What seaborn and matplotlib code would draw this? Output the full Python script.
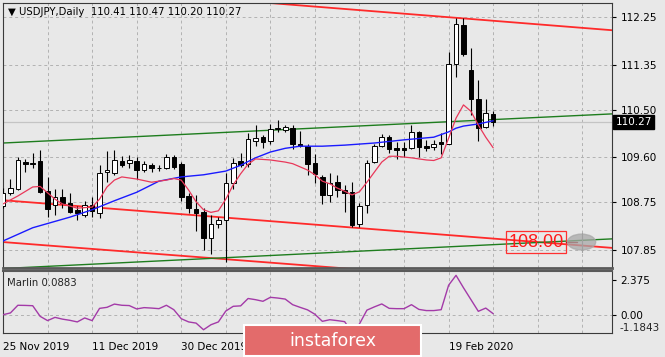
#!/usr/bin/env python3
"""USDJPY daily candles with MAs, channel lines and the Marlin oscillator."""

import matplotlib
matplotlib.use("Agg")
import matplotlib.pyplot as plt
from matplotlib.patches import Ellipse
import numpy as np
import seaborn as sns

# OHLC, bar 0 = 25 Nov 2019, bar 66 = 27 Feb 2020
opens = [108.68, 108.92, 109.01, 109.52, 109.50, 109.53, 108.97, 108.70, 108.86, 108.73,
         108.60, 108.52, 108.70, 108.54, 109.32, 109.30, 109.53, 109.49, 109.53, 109.36,
         109.45, 109.39, 109.39, 109.61, 109.47, 108.87, 108.62, 108.57, 108.08, 108.34,
         108.42, 109.11, 109.53, 109.47, 109.91, 109.98, 109.91, 110.14, 110.12, 110.16,
         109.86, 109.82, 109.49, 109.23, 108.89, 109.14, 108.99, 108.95, 108.35, 108.70,
         109.52, 109.81, 109.98, 109.77, 109.77, 109.77, 110.07, 109.81, 109.79, 109.88,
         109.86, 111.36, 112.10, 111.25, 110.71, 110.17, 110.41]
highs = [109.02, 109.20, 109.61, 109.56, 109.68, 109.73, 109.23, 109.01, 109.01, 108.92,
         108.68, 108.78, 108.86, 109.45, 109.72, 109.74, 109.63, 109.64, 109.61, 109.53,
         109.49, 109.45, 109.67, 109.64, 109.52, 108.92, 108.89, 108.64, 108.51, 108.48,
         109.30, 109.59, 109.69, 110.05, 110.21, 110.02, 110.22, 110.30, 110.21, 110.21,
         110.10, 109.85, 109.66, 109.27, 109.30, 109.27, 109.08, 109.14, 108.73, 109.55,
         109.86, 110.04, 110.02, 109.88, 109.89, 110.21, 110.10, 109.93, 109.93, 110.05,
         111.59, 112.23, 112.23, 111.66, 111.06, 110.71, 110.47]
lows = [108.64, 108.89, 108.99, 109.33, 109.39, 108.92, 108.48, 108.51, 108.64, 108.54,
        108.42, 108.48, 108.48, 108.45, 109.14, 109.27, 109.42, 109.39, 109.20, 109.33,
        109.33, 109.34, 109.38, 109.38, 108.77, 108.54, 108.21, 107.85, 107.77, 108.27,
        107.63, 109.00, 109.42, 109.42, 109.82, 109.78, 109.86, 110.07, 110.08, 109.76,
        109.79, 109.27, 109.11, 108.71, 108.76, 108.85, 108.57, 108.28, 108.29, 108.54,
        109.50, 109.79, 109.69, 109.56, 109.61, 109.75, 109.61, 109.71, 109.73, 109.66,
        109.85, 111.12, 111.51, 110.40, 109.90, 110.15, 110.20]
closes = [108.93, 109.03, 109.54, 109.47, 109.48, 108.95, 108.62, 108.86, 108.73, 108.57,
          108.54, 108.70, 108.59, 109.30, 109.36, 109.54, 109.45, 109.55, 109.36, 109.47,
          109.39, 109.40, 109.61, 109.42, 108.86, 108.64, 108.54, 108.08, 108.35, 108.42,
          109.11, 109.49, 109.46, 109.95, 109.97, 109.88, 110.13, 110.16, 110.18, 109.85,
          109.81, 109.47, 109.28, 108.89, 109.12, 108.99, 108.93, 108.32, 108.68, 109.50,
          109.81, 109.99, 109.75, 109.74, 109.74, 110.08, 109.80, 109.77, 109.86, 109.85,
          111.37, 112.12, 111.56, 110.70, 110.15, 110.43, 110.27]

# moving averages, sampled off the chart
blue_bars = [0, 4, 9, 12, 15, 18, 21, 24, 27, 30, 32, 34, 36, 38, 40, 43, 46, 50, 54, 58,
             60, 61, 62, 64, 66]
blue_vals = [108.02, 108.27, 108.47, 108.61, 108.78, 108.94, 109.15, 109.23, 109.27, 109.34,
             109.45, 109.59, 109.70, 109.77, 109.81, 109.81, 109.83, 109.87, 109.93, 109.98,
             110.08, 110.15, 110.19, 110.23, 110.29]
red_bars = [0, 2, 4, 5, 6, 7, 8, 10, 12, 13, 14, 15, 16, 18, 20, 22, 23, 24, 25, 26,
            27, 28, 29, 30, 31, 32, 33, 34, 36, 38, 39, 40, 41, 42, 43, 44, 45, 46, 47, 48,
            49, 50, 51, 52, 53, 55, 57, 58, 59, 60, 61, 62, 63, 64, 65, 66]
red_vals = [108.72, 108.87, 109.04, 109.05, 108.93, 108.81, 108.72, 108.64, 108.66, 108.81,
            109.04, 109.17, 109.23, 109.19, 109.13, 109.17, 109.20, 109.17, 108.98, 108.76,
            108.61, 108.56, 108.59, 108.81, 109.08, 109.29, 109.47, 109.57, 109.55, 109.51,
            109.48, 109.42, 109.36, 109.27, 109.15, 109.10, 109.02, 108.96, 108.89, 108.95,
            109.13, 109.32, 109.51, 109.62, 109.62, 109.59, 109.55, 109.54, 109.59, 109.96,
            110.34, 110.59, 110.47, 110.21, 109.98, 109.78]

# Marlin oscillator, one value per bar
marlin = [0.02, 0.14, 0.66, 0.65, 0.63, -0.09, -0.38, -0.16, -0.28, -0.36,
          -0.47, -0.20, -0.38, 0.45, 0.52, 0.74, 0.66, 0.64, 0.41, 0.50,
          0.47, 0.43, 0.66, 0.36, -0.25, -0.47, -0.55, -1.00, -0.66, -0.47,
          0.27, 0.59, 0.62, 1.12, 1.04, 0.93, 1.20, 1.15, 1.08, 0.70,
          0.52, 0.35, 0.05, -0.43, -0.32, -0.38, -0.45, -1.18, -0.60, 0.33,
          0.55, 0.75, 0.45, 0.43, 0.43, 0.70, 0.38, 0.30, 0.30, 0.36,
          2.02, 2.69, 1.85, 1.05, 0.25, 0.47, 0.09]

# hand-drawn channel lines (bar, price) end points
red_upper_x, red_upper_y = [30, 82], [112.58, 112.00]
green_upper_x, green_upper_y = [0, 82], [109.87, 110.42]
red_mid_x, red_mid_y = [0, 82], [108.79, 107.89]
red_low_x, red_low_y = [0, 50], [108.00, 107.46]
green_low_x, green_low_y = [0, 82], [107.50, 108.06]

price_ticks = [112.25, 111.35, 110.50, 109.60, 108.75, 107.85]
marlin_ticks = [2.375, 0.0]
# labels at bars 36 and 48 sit under the watermark, so only their ticks are drawn
date_ticks = [0, 12, 24, 60]
date_labels = ["25 Nov 2019", "11 Dec 2019", "30 Dec 2019", "19 Feb 2020"]
hidden_date_ticks = [36, 48]
last_price = 110.27
target_price = 108.00

sns.set_style("white")
plt.rcParams["font.family"] = ["DejaVu Sans"]

BG = "#e8e8e8"
GRID = "#b2b2b2"
W, H = 665, 357

fig = plt.figure(figsize=(W / 100, H / 100), dpi=100, facecolor=BG)
ax = fig.add_axes([3 / W, 1 - 268 / H, 609 / W, 265 / H], facecolor=BG)
axm = fig.add_axes([3 / W, 1 - 333 / H, 609 / W, 62 / H], facecolor=BG)

xlim = (0, 82)

# grid
for b in range(0, 84, 6):
    ax.axvline(b, color=GRID, lw=0.7, ls=(0, (3, 3)), zorder=1)
    axm.axvline(b, color=GRID, lw=0.7, ls=(0, (3, 3)), zorder=1)
for p in price_ticks:
    ax.axhline(p, color=GRID, lw=0.7, ls=(0, (3, 3)), zorder=1)
axm.axhline(0, color=GRID, lw=0.7, ls=(0, (3, 3)), zorder=1)

# current price line
ax.axhline(last_price, color="#c4c4c4", lw=0.9, zorder=1.5)

# channel lines
ax.plot(red_upper_x, red_upper_y, color="#ff2a2a", lw=1.3, zorder=2)
ax.plot(red_mid_x, red_mid_y, color="#ff2a2a", lw=1.3, zorder=2)
ax.plot(red_low_x, red_low_y, color="#ff2a2a", lw=1.3, zorder=2)
ax.plot(green_upper_x, green_upper_y, color="#1e7d1e", lw=1.0, zorder=2)
ax.plot(green_low_x, green_low_y, color="#1e7d1e", lw=1.0, zorder=2)

# candles
o, h, l, c = map(np.array, (opens, highs, lows, closes))
bars = np.arange(len(o))
up = c >= o
ax.vlines(bars, l, h, color="black", lw=0.8, zorder=3)
ax.bar(bars, np.maximum(np.abs(c - o), 0.012), bottom=np.minimum(o, c), width=0.62,
       color=np.where(up, "white", "black"), edgecolor="black", linewidth=0.7, zorder=4)

# moving averages
sns.lineplot(x=blue_bars, y=blue_vals, ax=ax, color="#1a1aff", lw=1.0, zorder=5)
sns.lineplot(x=red_bars, y=red_vals, ax=ax, color="#e8385a", lw=0.9, zorder=5)

# 108.00 target marker
ax.text(71.8, target_price, "108.00", color="#ff1a1a", fontsize=13,
        family="Liberation Sans", ha="center", va="center", zorder=6,
        bbox=dict(facecolor="none", edgecolor="#ff3030", lw=0.9, pad=1.5))
ax.plot([75.8, 77.3], [target_price, target_price], color="#9a1010", lw=1.0, zorder=6)
ax.add_patch(Ellipse((77.9, target_price), 3.8, 0.30, color="#a8a8a8", alpha=0.75, zorder=6))
ax.plot([77.9, 77.9], [107.82, 108.18], color="#a0a0a0", lw=0.8, zorder=6)

ax.set_xlim(*xlim)
ax.set_ylim(107.51, 112.514)
ax.yaxis.tick_right()
ax.set_yticks(price_ticks)
ax.set_yticklabels([f"{p:.2f}" for p in price_ticks])
ax.tick_params(axis="y", length=3, pad=3, labelsize=7.5, colors="black", direction="out")
ax.tick_params(axis="x", bottom=False, labelbottom=False)
ax.set_xlabel("")
ax.set_ylabel("")
for name, sp in ax.spines.items():
    sp.set_color("#3a3a3a")
    sp.set_linewidth(0.8)
ax.spines["bottom"].set_color("#5a5a5a")
ax.spines["bottom"].set_linewidth(2.0)

ax.text(1.006, last_price, f"{last_price:.2f}", transform=ax.get_yaxis_transform(),
        color="white", fontsize=7.5, ha="left", va="center", zorder=7, clip_on=False,
        bbox=dict(facecolor="black", edgecolor="black", pad=1.6))

# Marlin panel
sns.lineplot(x=bars, y=marlin, ax=axm, color="#a33aa8", lw=1.0, zorder=3)
axm.set_xlim(*xlim)
axm.set_ylim(-1.221, 2.985)
axm.yaxis.tick_right()
axm.set_yticks(marlin_ticks)
axm.set_yticklabels(["2.375", "0.00"])
axm.tick_params(axis="y", length=3, pad=3, labelsize=7.5, colors="black")
axm.text(1.012, -0.88, "-1.1843", transform=axm.get_yaxis_transform(),
         fontsize=7.5, ha="left", va="center", clip_on=False)
axm.set_xticks(date_ticks)
axm.set_xticklabels(date_labels)
axm.set_xticks(hidden_date_ticks, minor=True)
axm.tick_params(axis="x", which="both", length=5, pad=1.5, labelsize=7.5,
                colors="black", direction="out")
for lbl in axm.get_xticklabels():
    lbl.set_ha("left")
axm.set_xlabel("")
axm.set_ylabel("")
for name, sp in axm.spines.items():
    sp.set_color("#3a3a3a")
    sp.set_linewidth(0.8)
axm.spines["top"].set_color("#5a5a5a")
axm.spines["top"].set_linewidth(1.5)

# header texts
fig.text(8 / W, 1 - 12 / H, "\u25bc USDJPY,Daily  110.41 110.47 110.20 110.27",
         fontsize=7.3, va="center", ha="left", color="black")
fig.text(7 / W, 1 - 283 / H, "Marlin 0.0883", fontsize=7.3, va="center", ha="left",
         color="#222222")

# watermark logo box
logo = fig.add_axes([244 / W, 1 - 356 / H, 177 / W, 31 / H], facecolor="#e36b6b")
logo.set_xticks([])
logo.set_yticks([])
for sp in logo.spines.values():
    sp.set_color("white")
    sp.set_linewidth(1.5)
logo.text(0.5, 0.5, "instaforex", color="white", fontsize=12.5, ha="center",
          va="center", transform=logo.transAxes)

fig.savefig("out.png", dpi=100, facecolor=BG)
